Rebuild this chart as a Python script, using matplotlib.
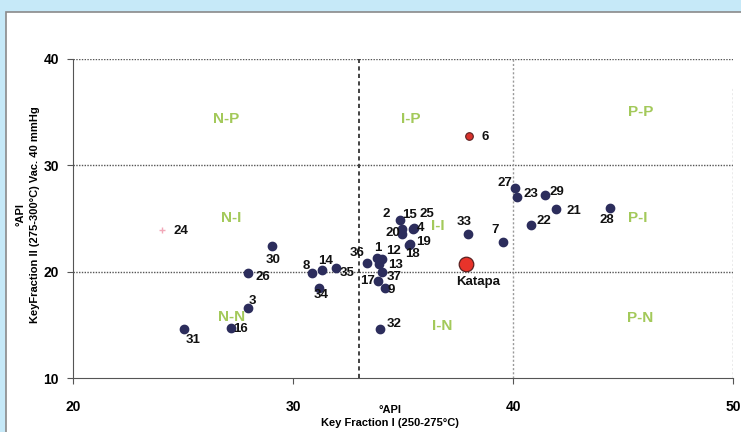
import matplotlib
matplotlib.use("Agg")
import matplotlib.pyplot as plt
from matplotlib.patches import Rectangle

plt.rcParams['font.family'] = ['Liberation Sans', 'DejaVu Sans']

# crude samples: (name, API key fraction I, API key fraction II)
names = ['1', '2', '3', '4', '7', '8', '9', '12', '13', '14', '15', '16', '17', '18',
         '19', '20', '21', '22', '23', '25', '26', '27', '28', '29', '30', '31', '32',
         '33', '34', '35', '36', '37']
kf1 = [33.8, 34.85, 27.95, 35.45, 39.55, 30.85, 34.2, 34.05, 33.9, 31.3, 34.95, 27.2,
       33.85, 35.25, 35.3, 34.95, 41.95, 40.8, 40.2, 35.5, 27.95, 40.1, 44.4, 41.45,
       29.05, 25.05, 33.95, 37.95, 31.2, 31.95, 33.35, 34.05]
kf2 = [21.3, 24.9, 16.6, 24.0, 22.75, 19.9, 18.5, 21.2, 20.7, 20.2, 24.0, 14.7,
       19.1, 22.5, 22.6, 23.5, 25.85, 24.4, 27.0, 24.1, 19.85, 27.9, 25.95, 27.2,
       22.4, 14.6, 14.6, 23.5, 18.5, 20.3, 20.8, 20.0]

# label offsets in pixels
offsets = {'1': (1, 10), '2': (-14, 6), '3': (5, 7), '4': (8, 1), '7': (-8, 12),
           '8': (-5, 7), '9': (6, -2), '12': (11, 8), '13': (17, -1), '14': (4, 9),
           '15': (8, 14), '16': (9, -1), '17': (-10, 0), '18': (4, -9), '19': (14, 2),
           '20': (-9, 1), '21': (18, -2), '22': (13, 4), '23': (14, 3), '25': (13, 14),
           '26': (15, -4), '27': (-10, 5), '28': (-3, -12), '29': (12, 3), '30': (1, -14),
           '31': (9, -11), '32': (14, 5), '33': (-4, 12), '34': (2, -7), '35': (11, -5),
           '36': (-10, 10), '37': (12, -5)}

sample6 = (38.0, 32.8)
sample24 = (24.05, 23.9)
katapa = (37.85, 20.7)

regions = ['N-P', 'I-P', 'P-P', 'N-I', 'I-I', 'P-I', 'N-N', 'I-N', 'P-N']
region_x = [26.95, 35.35, 45.8, 27.2, 36.6, 45.65, 27.2, 36.8, 45.8]
region_y = [34.4, 34.4, 35.0, 25.0, 24.3, 25.0, 15.7, 14.9, 15.6]

fig = plt.figure(figsize=(7.41, 4.32), dpi=100)
fig.patch.set_facecolor('#c6e9f8')
fig.patches.append(Rectangle((6 / 741, -0.01), 1.0, 1 - 12 / 432 + 0.01,
                             transform=fig.transFigure, facecolor='white',
                             edgecolor='#8a8a8a', linewidth=1.2, zorder=-5))

ax = fig.add_axes([73 / 741, 1 - 378 / 432, 660 / 741, 319 / 432])
ax.set_facecolor('none')
ax.set_xlim(20, 50)
ax.set_ylim(10, 40)

for s in ['top', 'right']:
    ax.spines[s].set_visible(False)
ax.spines['left'].set_color('#555555')
ax.spines['bottom'].set_color('#555555')

for yv in [20, 30, 40]:
    ax.plot([20, 50], [yv, yv], color='#555555', linestyle=(0, (1, 1)), linewidth=1.0)
ax.plot([33, 33], [10, 40], color='#222222', linestyle=(0, (2.5, 2)), linewidth=1.2)
ax.plot([40, 40], [10, 40], color='#999999', linestyle=(0, (1.5, 1.5)), linewidth=1.0)
ax.plot([50, 50], [10, 37.3], color='#999999', linestyle=(0, (1.5, 1.5)), linewidth=1.0)

ax.scatter(kf1, kf2, s=36, color='#2c2d5c', zorder=3)
ax.scatter([sample6[0]], [sample6[1]], s=30, color='#d8322c', edgecolor='#5a2020',
           linewidth=0.8, zorder=3)
ax.scatter([katapa[0]], [katapa[1]], s=110, color='#e8332a', edgecolor='#5a2020',
           linewidth=0.9, zorder=3)
ax.plot([sample24[0]], [sample24[1]], marker='+', color='#f2a8b8', markersize=4,
        linestyle='none')

for n, xv, yv in zip(names, kf1, kf2):
    dx, dy = offsets[n]
    ax.annotate(n, (xv, yv), xytext=(dx, dy), textcoords='offset pixels',
                ha='center', va='center', fontsize=9.5, fontweight='bold', color='#111111')
ax.annotate('6', sample6, xytext=(16, -1), textcoords='offset pixels',
            ha='center', va='center', fontsize=9.5, fontweight='bold', color='#111111')
ax.annotate('24', sample24, xytext=(19, -1), textcoords='offset pixels',
            ha='center', va='center', fontsize=9.5, fontweight='bold', color='#111111')
ax.annotate('Katapa', katapa, xytext=(12, -18), textcoords='offset pixels',
            ha='center', va='center', fontsize=9.5, fontweight='bold', color='#111111')

for r, xv, yv in zip(regions, region_x, region_y):
    ax.text(xv, yv, r, ha='center', va='center', fontsize=11, fontweight='bold',
            color='#a3c95a')

ax.set_xticks([20, 30, 40, 50])
ax.set_yticks([10, 20, 30, 40])
ax.tick_params(axis='both', direction='out', length=4, color='#555555',
               labelsize=10, pad=12)
ax.tick_params(axis='y', pad=6)
for lab in ax.get_xticklabels() + ax.get_yticklabels():
    lab.set_fontweight('bold')

fig.text(390 / 741, 1 - 410 / 432, '°API', ha='center', va='center',
         fontsize=8, fontweight='bold')
fig.text(390 / 741, 1 - 423 / 432, 'Key Fraction I (250-275°C)', ha='center',
         va='center', fontsize=8, fontweight='bold')
fig.text(21 / 741, 1 - 215 / 432, '°API', rotation=90, ha='center', va='center',
         fontsize=8, fontweight='bold')
fig.text(35 / 741, 1 - 215 / 432, 'KeyFraction II (275-300°C) Vac. 40 mmHg',
         rotation=90, ha='center', va='center', fontsize=8, fontweight='bold')

fig.savefig('out.png', dpi=100)
